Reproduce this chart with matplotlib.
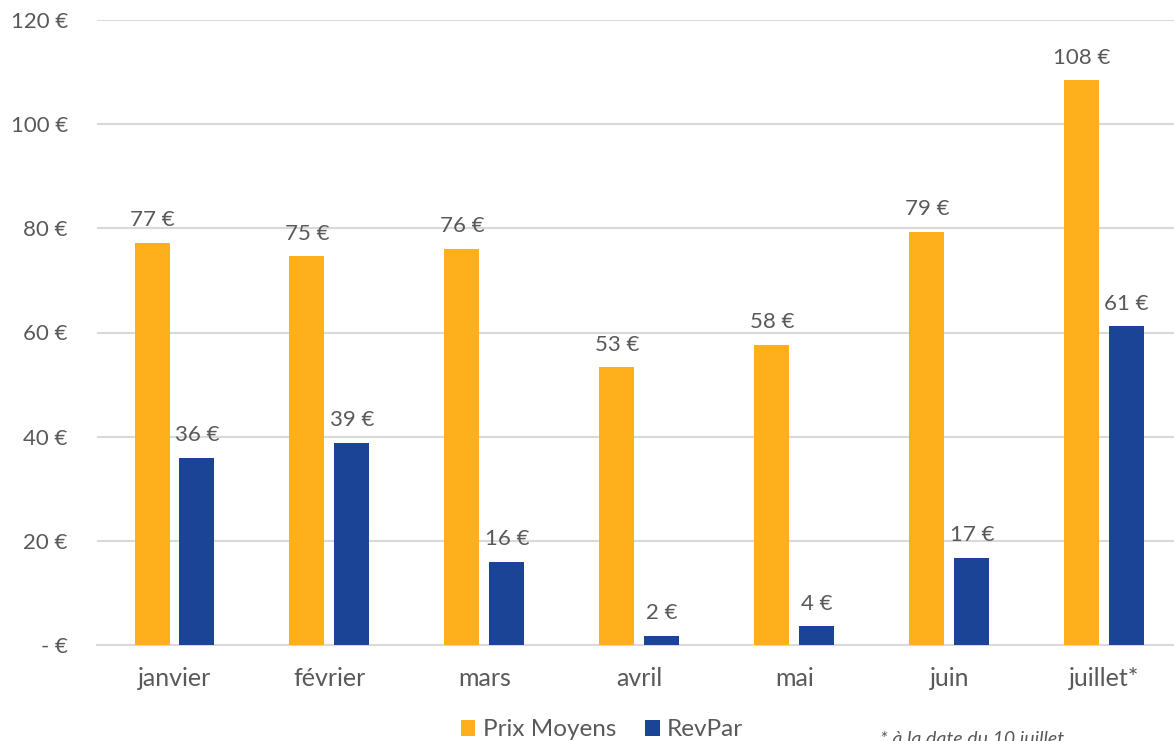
import matplotlib.pyplot as plt
import numpy as np

# data
mois = ['janvier', 'février', 'mars', 'avril', 'mai', 'juin', 'juillet*']
prix_moyens = [77.2, 74.6, 76.1, 53.3, 57.6, 79.3, 108.4]
revpar = [36.0, 38.8, 16.0, 1.8, 3.6, 16.8, 61.2]
yticks = [0, 20, 40, 60, 80, 100, 120]

orange = '#FDB01B'
bleu = '#1B4496'
gris = '#595959'

plt.rcParams['font.family'] = ['Lato', 'DejaVu Sans']

W, H = 1174, 741
fig = plt.figure(figsize=(W / 100, H / 100), dpi=100)
ax = fig.add_axes([97 / W, 96 / H, 1077 / W, 625 / H])

x = np.arange(len(mois))
w = 0.226
off = 0.145
b1 = ax.bar(x - off, prix_moyens, w, color=orange, label='Prix Moyens', zorder=3)
b2 = ax.bar(x + off, revpar, w, color=bleu, label='RevPar', zorder=3)

# value labels
for bars, vals in ((b1, prix_moyens), (b2, revpar)):
    for r, v in zip(bars, vals):
        ax.text(r.get_x() + r.get_width() / 2, v + 2.4, '%d €' % round(v),
                ha='center', va='bottom', fontsize=16, color=gris)

ax.set_xlim(-0.5, 6.45)
ax.set_ylim(0, 120)
ax.set_xticks(x)
ax.set_xticklabels(mois, fontsize=18, color=gris)
ax.set_yticks(yticks)
ax.set_yticklabels(['- €' if t == 0 else '%d €' % t for t in yticks], fontsize=16, color=gris)
ax.tick_params(axis='both', length=0)
ax.tick_params(axis='x', pad=16)
ax.tick_params(axis='y', pad=21)
ax.grid(axis='y', color='#D9D9D9', linewidth=1.5, zorder=0)
ax.set_axisbelow(True)
for s in ax.spines.values():
    s.set_visible(False)
ax.axhline(0, color='#D9D9D9', linewidth=1.5, zorder=2, clip_on=False)

# legend
fig.legend(handles=[b1, b2], loc='center', bbox_to_anchor=(602 / W, 1 - 730 / H),
           ncol=2, frameon=False, fontsize=17.5, labelcolor=gris,
           handlelength=0.6, handleheight=0.6, handletextpad=0.3, columnspacing=1.2)

# footnote (cut off at the bottom edge, as in the original)
fig.text(880 / W, 1 - 731 / H, '* à la date du 10 juillet', fontsize=14,
         style='italic', color=gris, ha='left', va='top')

fig.savefig('out.png', dpi=100)
